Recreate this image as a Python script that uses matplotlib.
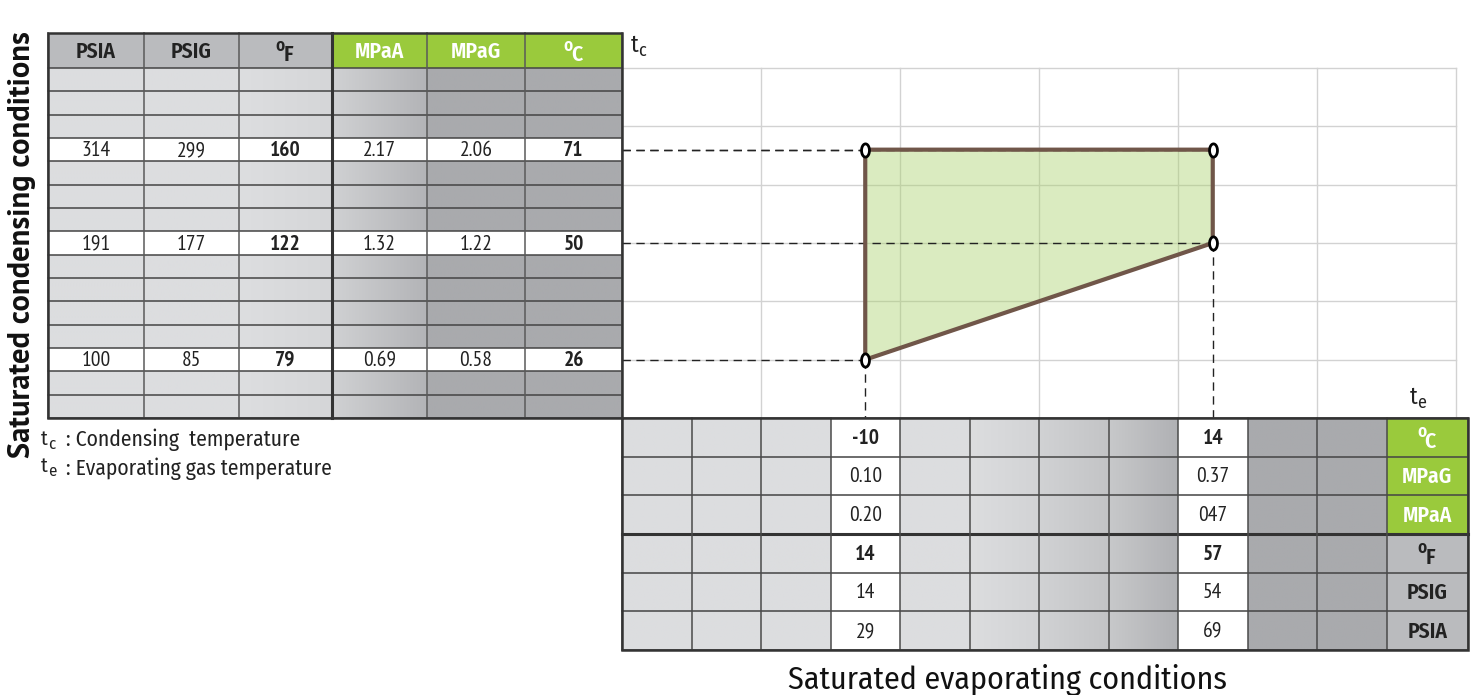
import numpy as np
import matplotlib.pyplot as plt
from matplotlib.patches import Rectangle, Polygon
from matplotlib.path import Path
from matplotlib.colors import to_rgb

# condensing side (left table), one entry per data row
cond_c = [71, 50, 26]
cond_f = [160, 122, 79]
cond_psia = [314, 191, 100]
cond_psig = [299, 177, 85]
cond_mpaa = ['2.17', '1.32', '0.69']
cond_mpag = ['2.06', '1.22', '0.58']

# evaporating side (bottom table), one entry per data column
evap_c = [-10, 14]
evap_mpag = ['0.10', '0.37']
evap_mpaa = ['0.20', '047']
evap_f = [14, 57]
evap_psig = [14, 54]
evap_psia = [29, 69]

# envelope corners
env_te = [-10, -10, 14, 14]
env_tc = [26, 71, 71, 50]

left_heads = ['PSIA', 'PSIG', 'oF', 'MPaA', 'MPaG', 'oC']
bottom_heads = ['oC', 'MPaG', 'MPaA', 'oF', 'PSIG', 'PSIA']

# which table row / column holds each value
cond_rows = [3, 7, 12]
evap_cols = [3, 8]

plt.rcParams['font.family'] = ['PT Sans Narrow', 'DejaVu Sans']
COND = ['Fira Sans Condensed', 'DejaVu Sans']

GREEN = '#9aca3c'
HEADGRAY = '#babbbe'
LINE = '#444444'
TXT = '#222222'

fig = plt.figure(figsize=(14.8, 6.95), dpi=100)
ax = fig.add_axes([0, 0, 1, 1])

# --- geometry (pixels) ---
LX = [48, 144, 239, 332, 427, 525, 622]
L_TOP, L_HEAD, N_L = 33, 68, 15
RH = (418 - L_HEAD) / N_L
BX0, CW, N_BC = 622, 69.5, 12
BX = [BX0 + CW * i for i in range(N_BC)] + [1468]
BY0, N_BR = 418, 6
BRH = (650 - BY0) / N_BR


def row_y(r):
    return L_HEAD + (r + 0.5) * RH


def col_x(c):
    return BX0 + (c + 0.5) * CW


def grad(x0, x1, y0, y1, c0, c1):
    a = np.array(to_rgb(c0))
    b = np.array(to_rgb(c1))
    t = np.linspace(0, 1, 64)[:, None]
    img = (a + (b - a) * t)[None, :, :]
    ax.imshow(img, extent=[x0, x1, y1, y0], aspect='auto',
              interpolation='bilinear', zorder=1)


def unit_text(x, y, unit, size, color=TXT):
    # "oF" / "oC" with a raised small o
    if unit.startswith('o'):
        ax.text(x - 5, y - 6, 'o', fontsize=size * 0.8, color=color, weight='semibold',
                family=COND, ha='center', va='center', zorder=6)
        ax.text(x + 3, y + 3, unit[1], fontsize=size, color=color, weight='semibold',
                family=COND, ha='center', va='center', zorder=6)
    else:
        ax.text(x, y, unit, fontsize=size, color=color, weight='semibold', family=COND,
                ha='center', va='center', zorder=6)


# --- left table ---
left_cols = [('#dcdddf', '#dcdddf'), ('#dcdddf', '#dcdddf'), ('#dddee0', '#d5d6d8'),
             ('#d0d1d3', '#b3b4b7'), ('#a9aaad', '#a9aaad'), ('#a9aaad', '#a9aaad')]
for i, (c0, c1) in enumerate(left_cols):
    grad(LX[i], LX[i + 1], L_HEAD, 418, c0, c1)
    ax.add_patch(Rectangle((LX[i], L_TOP), LX[i + 1] - LX[i], L_HEAD - L_TOP,
                           facecolor=HEADGRAY if i < 3 else GREEN, edgecolor='none', zorder=2))
    unit_text((LX[i] + LX[i + 1]) / 2, (L_TOP + L_HEAD) / 2 + 1, left_heads[i], 15.5,
              color=TXT if i < 3 else 'white')
for r in cond_rows:
    ax.add_patch(Rectangle((LX[0], L_HEAD + r * RH), LX[-1] - LX[0], RH,
                           facecolor='white', edgecolor='none', zorder=2))

left_vals = [cond_psia, cond_psig, cond_f, cond_mpaa, cond_mpag, cond_c]
left_bold = [False, False, True, False, False, True]
for i, vals in enumerate(left_vals):
    for r, v in zip(cond_rows, vals):
        ax.text((LX[i] + LX[i + 1]) / 2, row_y(r) + 1, str(v), fontsize=15.5,
                weight='bold' if left_bold[i] else 'normal', color=TXT,
                ha='center', va='center', zorder=6)

for k in range(N_L + 1):
    ax.plot([LX[0], LX[-1]], [L_HEAD + k * RH] * 2, color=LINE, lw=1.1, zorder=4)
for i, x in enumerate(LX):
    ax.plot([x, x], [L_TOP, 418], color='#333333' if i == 3 else '#5a5a5a',
            lw=2.2 if i == 3 else 1.1, zorder=4)
ax.add_patch(Rectangle((LX[0], L_TOP), LX[-1] - LX[0], 418 - L_TOP, fill=False,
                       edgecolor='#333333', lw=1.8, zorder=5))

# --- bottom table ---
bottom_cols = [('#dcdddf', '#dcdddf')] * 3 + [('white', 'white'), ('#dcdddf', '#dcdddf'),
               ('#dcdddf', '#d2d3d5'), ('#d1d2d4', '#c3c4c6'), ('#c7c8ca', '#b0b1b4'),
               ('white', 'white'), ('#a9aaad', '#a9aaad'), ('#a9aaad', '#a9aaad')]
for i, (c0, c1) in enumerate(bottom_cols):
    grad(BX[i], BX[i + 1], BY0, 650, c0, c1)
for r in range(N_BR):
    ax.add_patch(Rectangle((BX[-2], BY0 + r * BRH), BX[-1] - BX[-2], BRH,
                           facecolor=GREEN if r < 3 else HEADGRAY, edgecolor='none', zorder=2))
    unit_text((BX[-2] + BX[-1]) / 2, BY0 + (r + 0.5) * BRH + 1, bottom_heads[r], 15.5,
              color='white' if r < 3 else TXT)

bottom_vals = [evap_c, evap_mpag, evap_mpaa, evap_f, evap_psig, evap_psia]
bottom_bold = [True, False, False, True, False, False]
for r, vals in enumerate(bottom_vals):
    for c, v in zip(evap_cols, vals):
        ax.text(col_x(c), BY0 + (r + 0.5) * BRH + 1, str(v), fontsize=15.5,
                weight='bold' if bottom_bold[r] else 'normal', color=TXT,
                ha='center', va='center', zorder=6)

for r in range(N_BR + 1):
    ax.plot([BX[0], BX[-1]], [BY0 + r * BRH] * 2, color='#333333' if r == 3 else LINE,
            lw=2.2 if r == 3 else 1.1, zorder=4)
for x in BX:
    ax.plot([x, x], [BY0, 650], color='#4a4a4a', lw=1.1, zorder=4)
ax.add_patch(Rectangle((BX[0], BY0), BX[-1] - BX[0], 650 - BY0, fill=False,
                       edgecolor='#333333', lw=1.8, zorder=5))

# --- envelope chart ---
GX = [BX0 + 2 * CW * k for k in range(7)]
GY = [L_HEAD + 2.5 * RH * k for k in range(6)]
for x in GX[1:]:
    ax.plot([x, x], [L_HEAD, 418], color='#d2d2d2', lw=1.0, zorder=1.5)
for y in GY:
    ax.plot([BX0, GX[-1]], [y, y], color='#d2d2d2', lw=1.0, zorder=1.5)

te_to_col = dict(zip(evap_c, evap_cols))
tc_to_row = dict(zip(cond_c, cond_rows))
px = [col_x(te_to_col[t]) for t in env_te]
py = [row_y(tc_to_row[t]) for t in env_tc]

ax.add_patch(Polygon(np.c_[px, py], closed=True, facecolor='#a9d06a', alpha=0.42,
                     edgecolor='none', zorder=2))

# dashed reading lines to the tables
for x, y in zip(px, py):
    ax.plot([BX0, x], [y, y], color=TXT, lw=1.0, ls=(0, (6, 4)), zorder=3)
for x in sorted(set(px)):
    ylow = max(y for xx, y in zip(px, py) if xx == x)
    ax.plot([x, x], [ylow, BY0], color=TXT, lw=1.0, ls=(0, (6, 4)), zorder=3)

ax.add_patch(Polygon(np.c_[px, py], closed=True, fill=False, edgecolor='#705649',
                     lw=3.0, joinstyle='miter', zorder=3.5))

theta = np.linspace(0, 2 * np.pi, 40)
oval = Path(np.c_[0.6 * np.cos(theta), np.sin(theta)], closed=True)
ax.plot(px, py, ls='none', marker=oval, ms=9.5, mfc='white', mec='black', mew=2.0, zorder=7)

# axis letters
ax.text(631, 45, 't', fontsize=17, family=COND, ha='left', va='center', color=TXT)
ax.text(638, 51, 'c', fontsize=13, family=COND, ha='left', va='center', color=TXT)
ax.text(1410, 397, 't', fontsize=17, family=COND, ha='left', va='center', color=TXT)
ax.text(1417, 403, 'e', fontsize=13, family=COND, ha='left', va='center', color=TXT)

# legend
ax.text(41, 439, 't', fontsize=15, family=COND, ha='left', va='center', color=TXT)
ax.text(48, 444, 'c', fontsize=12, family=COND, ha='left', va='center', color=TXT)
ax.text(66, 440, ': Condensing  temperature', fontsize=15.5, family=COND,
        ha='left', va='center', color=TXT)
ax.text(41, 466, 't', fontsize=15, family=COND, ha='left', va='center', color=TXT)
ax.text(48, 471, 'e', fontsize=12, family=COND, ha='left', va='center', color=TXT)
ax.text(66, 469, ': Evaporating gas temperature', fontsize=15.5, family=COND,
        ha='left', va='center', color=TXT)

# axis titles
ax.text(22, 245, 'Saturated condensing conditions', rotation=90, fontsize=22,
        family=['PT Sans', 'DejaVu Sans'], weight='bold', ha='center', va='center',
        color='#111111')
ax.text(1007, 680, 'Saturated evaporating conditions', fontsize=23, family=COND,
        ha='center', va='center', color='#111111')

ax.set_xlim(0, 1480)
ax.set_ylim(695, 0)
ax.axis('off')

fig.savefig('out.png', dpi=100)
